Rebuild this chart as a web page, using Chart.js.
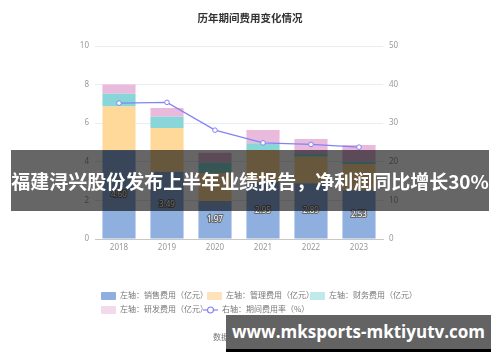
<!DOCTYPE html>
<html>
<head>
<meta charset="utf-8">
<script src="https://cdn.jsdelivr.net/npm/chart.js@4/dist/chart.umd.min.js"></script>
<style>
  html, body { margin: 0; padding: 0; background: #fff; }
  #wrap { position: relative; width: 500px; height: 362px; overflow: hidden; font-family: "Noto Sans CJK SC", "Noto Sans", sans-serif; }
  #chart { position: absolute; left: 0; top: 0; }
  .title { position: absolute; left: 0; top: 10px; width: 500px; text-align: center; font-size: 10.5px; font-weight: bold; color: #333; }
  .legend { position: absolute; font-size: 8px; color: #777; white-space: nowrap; line-height: 10px; }
  .legend .box { display: inline-block; width: 15px; height: 8px; vertical-align: middle; margin-right: 4px; border-radius: 1px; }
  .legend .item { position: absolute; top: 0; }
  .source { position: absolute; left: 213px; top: 331px; font-size: 8px; color: #777; }
  .banner { position: absolute; left: 11px; top: 150px; width: 478px; height: 61px; background: rgba(0,0,0,0.6); color: #fff; font-weight: bold; font-size: 19px; line-height: 61px; text-align: center; white-space: nowrap; }
  .mark { position: absolute; left: 226px; top: 315px; width: 265px; height: 34px; background: #636363; border-bottom: 3px solid #000; color: #fff; font-family: "Open Sans", sans-serif; font-weight: bold; font-size: 17px; line-height: 34px; text-align: center; white-space: nowrap; }
</style>
</head>
<body>
<div id="wrap">
  <canvas id="chart" width="500" height="362"></canvas>
  <div class="title">历年期间费用变化情况</div>
  <div class="legend" style="left:101px;top:290px;">
    <span class="item" style="left:0"><span class="box" style="background:#8fadde"></span>左轴：销售费用（亿元）</span>
    <span class="item" style="left:106px"><span class="box" style="background:#fde2bb"></span>左轴：管理费用（亿元）</span>
    <span class="item" style="left:209px"><span class="box" style="background:#bfe9ea"></span>左轴：财务费用（亿元）</span>
  </div>
  <div class="legend" style="left:101px;top:304px;">
    <span class="item" style="left:0"><span class="box" style="background:#f3d9ec"></span>左轴：研发费用（亿元）</span>
    <span class="item" style="left:102px"><svg width="15" height="8" style="vertical-align:middle;margin-right:4px"><line x1="0" y1="4" x2="15" y2="4" stroke="#8383f5" stroke-width="1.2"/><circle cx="7.5" cy="4" r="3" fill="#fff" stroke="#8383f5" stroke-width="1.2"/></svg>右轴：期间费用率（%）</span>
  </div>
  <div class="source">数据来源：Wind</div>
  <div class="banner">福建浔兴股份发布上半年业绩报告，净利润同比增长30%</div>
  <div class="mark">www.mksports-mktiyutv.com</div>
</div>
<script>
const years = ['2018', '2019', '2020', '2021', '2022', '2023']
const salesExpense = [4.60, 3.49, 1.97, 2.95, 2.89, 2.53]
const adminExpense = [2.26, 2.26, 1.45, 1.66, 1.37, 1.36]
const financeExpense = [0.67, 0.59, 0.55, 0.35, 0.14, 0.11]
const rdExpense = [0.48, 0.45, 0.50, 0.69, 0.78, 0.87]
const expenseRate = [35.2, 35.4, 28.2, 24.9, 24.5, 23.8]
const leftTicks = [0, 2, 4, 6, 8, 10]
const rightTicks = [0, 10, 20, 30, 40, 50]

const tickFont = { family: 'Noto Sans, sans-serif', size: 8 }

function barSet(label, data, color) {
  return {
    type: 'bar',
    label,
    data,
    backgroundColor: color,
    borderWidth: 0,
    stack: 'cost',
    yAxisID: 'y',
    categoryPercentage: 1,
    barPercentage: 0.69,
    order: 1,
  }
}

// value labels in the middle of the sales bars
const barLabels = {
  id: 'barLabels',
  afterDatasetsDraw(chart) {
    const ctx = chart.ctx
    const meta = chart.getDatasetMeta(0)
    ctx.save()
    ctx.font = '8px "Noto Sans", sans-serif'
    ctx.textAlign = 'center'
    ctx.textBaseline = 'middle'
    ctx.lineWidth = 2
    ctx.strokeStyle = '#666'
    ctx.fillStyle = '#fff'
    meta.data.forEach((bar, i) => {
      const text = salesExpense[i].toFixed(2)
      const y = (bar.y + bar.base) / 2
      ctx.strokeText(text, bar.x, y)
      ctx.fillText(text, bar.x, y)
    })
    ctx.restore()
  },
}

new Chart(document.getElementById('chart'), {
  data: {
    labels: years,
    datasets: [
      barSet('左轴：销售费用（亿元）', salesExpense, '#8fb0de'),
      barSet('左轴：管理费用（亿元）', adminExpense, '#ffd99a'),
      barSet('左轴：财务费用（亿元）', financeExpense, '#88d6d8'),
      barSet('左轴：研发费用（亿元）', rdExpense, '#e9badb'),
      {
        type: 'line',
        label: '右轴：期间费用率（%）',
        data: expenseRate,
        yAxisID: 'y1',
        borderColor: '#8383f5',
        borderWidth: 1.3,
        pointRadius: 2.3,
        pointBorderWidth: 1,
        pointBackgroundColor: '#fff',
        pointBorderColor: '#8383f5',
        tension: 0,
        order: 0,
      },
    ],
  },
  options: {
    responsive: false,
    animation: false,
    layout: { padding: { left: 65, right: 87, top: 46, bottom: 103 } },
    plugins: {
      legend: { display: false },
      tooltip: { enabled: false },
    },
    scales: {
      x: {
        stacked: true,
        grid: { display: false, drawTicks: false },
        border: { color: '#c8c8c8', width: 1 },
        ticks: { color: '#999', font: tickFont, padding: 4 },
        afterFit(scale) { scale.height = 20 },
      },
      y: {
        stacked: true,
        position: 'left',
        min: 0,
        max: 10,
        afterBuildTicks(scale) { scale.ticks = leftTicks.map((value) => ({ value })) },
        grid: { color: '#e8ecf3', drawTicks: false },
        border: { display: false },
        ticks: { color: '#999', font: tickFont, padding: 6 },
        afterFit(scale) { scale.width = 30 },
      },
      y1: {
        position: 'right',
        min: 0,
        max: 50,
        afterBuildTicks(scale) { scale.ticks = rightTicks.map((value) => ({ value })) },
        grid: { display: false, drawTicks: false },
        border: { display: false },
        ticks: { color: '#999', font: tickFont, padding: 6 },
        afterFit(scale) { scale.width = 30 },
      },
    },
  },
  plugins: [barLabels],
})
</script>
</body>
</html>
